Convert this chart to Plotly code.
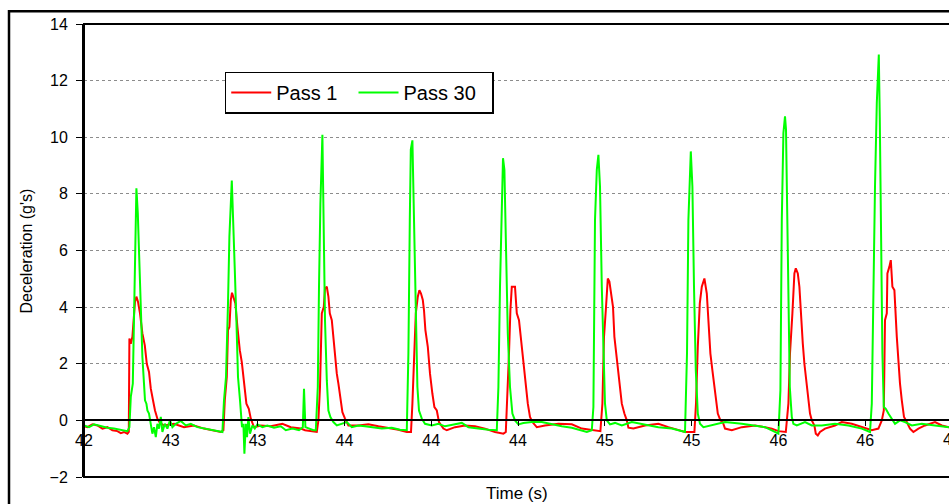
import plotly.graph_objects as go

# ---- data ----
pass1_t = [42.25, 42.267, 42.292, 42.317, 42.342, 42.367, 42.392, 42.417, 42.434, 42.45, 42.467, 42.474,
           42.477, 42.484, 42.492, 42.5, 42.505, 42.512, 42.52, 42.53, 42.542, 42.554, 42.564, 42.575,
           42.584, 42.595, 42.605, 42.617, 42.63, 42.65, 42.7, 42.75, 42.8, 42.85, 42.9, 42.934, 42.947,
           42.954, 42.964, 42.97, 42.977, 42.984, 42.99, 42.997, 43.007, 43.017, 43.029, 43.039, 43.05,
           43.062, 43.074, 43.084, 43.1, 43.134, 43.184, 43.242, 43.284, 43.334, 43.355, 43.384, 43.414,
           43.422, 43.43, 43.439, 43.449, 43.455, 43.464, 43.472, 43.479, 43.489, 43.497, 43.505, 43.514,
           43.522, 43.532, 43.542, 43.555, 43.572, 43.622, 43.672, 43.722, 43.772, 43.822, 43.864, 43.885,
           43.892, 43.902, 43.909, 43.919, 43.927, 43.935, 43.944, 43.95, 43.957, 43.969, 43.98, 43.992,
           44.002, 44.014, 44.025, 44.047, 44.064, 44.105, 44.155, 44.205, 44.255, 44.305, 44.347, 44.359,
           44.369, 44.375, 44.382, 44.389, 44.405, 44.414, 44.425, 44.439, 44.455, 44.469, 44.48, 44.492,
           44.514, 44.555, 44.622, 44.689, 44.739, 44.789, 44.832, 44.842, 44.85, 44.859, 44.869, 44.877,
           44.885, 44.895, 44.902, 44.914, 44.925, 44.939, 44.952, 44.964, 44.972, 44.997, 45.055, 45.122,
           45.172, 45.222, 45.255, 45.302, 45.31, 45.319, 45.329, 45.339, 45.352, 45.364, 45.372, 45.382,
           45.392, 45.405, 45.419, 45.432, 45.444, 45.455, 45.489, 45.539, 45.605, 45.655, 45.689, 45.722,
           45.759, 45.772, 45.78, 45.792, 45.802, 45.809, 45.819, 45.827, 45.835, 45.844, 45.852, 45.86,
           45.872, 45.88, 45.889, 45.902, 45.909, 45.919, 45.93, 45.955, 46.005, 46.039, 46.089, 46.139,
           46.189, 46.222, 46.239, 46.249, 46.255, 46.264, 46.267, 46.277, 46.284, 46.292, 46.302, 46.314,
           46.322, 46.33, 46.339, 46.35, 46.364, 46.38, 46.397, 46.422, 46.455, 46.505, 46.539, 46.575]
pass1_g = [-0.21, -0.24, -0.14, -0.18, -0.29, -0.24, -0.35, -0.38, -0.45, -0.41, -0.47, -0.41,
           2.89, 2.71, 2.95, 3.66, 4.19, 4.37, 4.19, 3.78, 3.07, 2.65, 2.0, 1.71,
           1.12, 0.71, 0.35, 0.06, -0.09, -0.18, -0.12, -0.24, -0.18, -0.29, -0.35, -0.41, -0.35,
           0.71, 1.53, 3.19, 3.3, 4.25, 4.51, 4.31, 4.13, 3.3, 2.48, 2.06, 1.3,
           0.59, 0.41, 0.06, -0.24, -0.18, -0.21, -0.12, -0.24, -0.29, -0.35, -0.38, -0.41,
           0.0, 1.18, 3.78, 4.01, 4.66, 4.72, 4.37, 3.78, 3.54, 2.83, 2.36, 1.65,
           1.3, 0.71, 0.29, 0.06, -0.18, -0.18, -0.14, -0.21, -0.26, -0.33, -0.41, -0.41,
           0.59, 2.95, 3.78, 4.37, 4.6, 4.48, 4.25, 3.89, 3.19, 2.6, 1.65, 0.94,
           0.47, 0.35, -0.06, -0.29, -0.35, -0.24, -0.18, -0.21, -0.29, -0.41, -0.47, -0.41,
           1.18, 2.36, 3.89, 4.72, 4.72, 3.78, 3.54, 2.6, 1.42, 0.59, 0.12, -0.06,
           -0.24, -0.18, -0.12, -0.14, -0.29, -0.35, -0.38, 0.59, 2.95, 3.89, 5.01, 4.9,
           4.48, 4.01, 2.95, 2.24, 1.42, 0.59, 0.24, 0.0, -0.26, -0.29, -0.18, -0.12,
           -0.24, -0.35, -0.41, -0.41, 0.59, 2.6, 4.13, 4.72, 5.01, 4.48, 3.54, 2.36,
           1.77, 0.94, 0.24, 0.0, -0.06, -0.29, -0.35, -0.24, -0.18, -0.24, -0.29, -0.38,
           -0.41, 0.59, 2.36, 3.78, 5.19, 5.37, 5.19, 4.72, 3.54, 2.71, 2.0, 1.42,
           0.71, 0.24, 0.0, -0.18, -0.47, -0.53, -0.41, -0.29, -0.18, -0.06, -0.12, -0.24,
           -0.35, -0.29, 0.0, 0.35, 3.54, 3.78, 5.19, 5.43, 5.66, 4.72, 4.6, 2.95,
           2.0, 1.3, 0.71, 0.12, -0.06, -0.29, -0.41, -0.29, -0.18, -0.06, -0.18, -0.24]

pass30_t = [42.25, 42.275, 42.3, 42.334, 42.367, 42.4, 42.434, 42.467, 42.477, 42.484, 42.494, 42.5,
            42.505, 42.512, 42.519, 42.525, 42.534, 42.542, 42.55, 42.555, 42.562, 42.567, 42.575, 42.584,
            42.592, 42.6, 42.609, 42.617, 42.625, 42.634, 42.642, 42.654, 42.667, 42.68, 42.692, 42.709,
            42.734, 42.759, 42.784, 42.817, 42.85, 42.884, 42.917, 42.942, 42.95, 42.96, 42.97, 42.977,
            42.989, 42.997, 43.004, 43.012, 43.02, 43.03, 43.04, 43.047, 43.052, 43.059, 43.065, 43.072,
            43.08, 43.092, 43.104, 43.117, 43.142, 43.167, 43.2, 43.234, 43.259, 43.292, 43.325, 43.344,
            43.35, 43.357, 43.372, 43.397, 43.409, 43.419, 43.425, 43.432, 43.442, 43.449, 43.455, 43.464,
            43.472, 43.482, 43.497, 43.514, 43.539, 43.564, 43.589, 43.622, 43.655, 43.697, 43.739, 43.789,
            43.83, 43.864, 43.872, 43.879, 43.884, 43.892, 43.899, 43.909, 43.917, 43.925, 43.939, 43.955,
            43.989, 44.022, 44.055, 44.105, 44.139, 44.172, 44.222, 44.272, 44.314, 44.322, 44.33, 44.339,
            44.345, 44.352, 44.359, 44.369, 44.38, 44.392, 44.405, 44.422, 44.447, 44.489, 44.539, 44.589,
            44.639, 44.689, 44.73, 44.764, 44.789, 44.797, 44.805, 44.814, 44.822, 44.83, 44.839, 44.849,
            44.855, 44.864, 44.88, 44.905, 44.939, 44.989, 45.055, 45.122, 45.189, 45.239, 45.255, 45.265,
            45.272, 45.284, 45.292, 45.3, 45.309, 45.319, 45.33, 45.347, 45.389, 45.455, 45.539, 45.605,
            45.655, 45.697, 45.722, 45.732, 45.739, 45.747, 45.755, 45.76, 45.767, 45.772, 45.779, 45.789,
            45.797, 45.814, 45.855, 45.889, 45.939, 46.005, 46.072, 46.139, 46.18, 46.189, 46.197, 46.205,
            46.214, 46.224, 46.229, 46.235, 46.242, 46.249, 46.259, 46.272, 46.289, 46.305, 46.33, 46.355,
            46.389, 46.439, 46.505, 46.575]
pass30_g = [-0.18, -0.24, -0.14, -0.21, -0.26, -0.29, -0.33, -0.38, -0.24, 0.83, 1.3, 4.13,
            6.14, 8.2, 7.32, 5.78, 3.89, 2.24, 1.3, 0.71, 0.59, 0.35, 0.24, -0.18,
            -0.47, -0.24, -0.59, -0.12, -0.29, 0.12, -0.41, -0.12, -0.29, 0.0, -0.24, -0.12,
            -0.02, -0.18, -0.12, -0.24, -0.29, -0.33, -0.38, -0.41, 0.71, 1.53, 4.13, 6.49,
            8.47, 7.08, 5.31, 3.54, 1.53, 0.71, -0.24, -0.12, -1.18, -0.12, -0.59, 0.12,
            -0.47, -0.18, -0.29, -0.14, -0.24, -0.18, -0.26, -0.21, -0.35, -0.29, -0.35, -0.24,
            1.12, -0.24, -0.29, -0.35, -0.35, 1.18, 4.72, 7.67, 10.09, 7.08, 3.54, 1.42,
            0.35, 0.12, -0.06, -0.18, -0.12, -0.06, -0.24, -0.18, -0.21, -0.26, -0.29, -0.26,
            -0.33, -0.35, 2.36, 7.08, 9.56, 9.89, 7.08, 3.54, 1.18, 0.35, 0.06, -0.12,
            -0.18, -0.12, -0.21, -0.14, -0.09, -0.24, -0.29, -0.33, -0.35, 1.18, 4.72, 7.67,
            9.26, 8.85, 5.9, 3.07, 1.18, 0.24, 0.0, -0.14, -0.09, -0.06, -0.06, -0.14,
            -0.21, -0.26, -0.35, -0.41, -0.35, 0.47, 7.08, 8.85, 9.38, 8.26, 4.72, 2.36,
            0.59, 0.0, -0.14, -0.09, -0.18, -0.06, -0.14, -0.24, -0.29, -0.38, -0.41, 2.36,
            7.08, 9.5, 8.26, 4.72, 1.77, 0.24, -0.12, -0.24, -0.18, -0.06, -0.12, -0.18,
            -0.24, -0.38, -0.47, 1.06, 7.08, 10.15, 10.74, 10.27, 7.08, 3.54, 1.18, 0.12,
            -0.12, -0.18, -0.06, -0.18, -0.18, -0.12, -0.18, -0.29, -0.41, 0.59, 4.72, 8.26,
            11.21, 12.92, 10.62, 5.9, 2.36, 0.47, 0.41, 0.24, 0.06, -0.12, 0.0, -0.06,
            -0.18, -0.12, -0.18, -0.24]

series_names = ["Pass 1", "Pass 30"]
x_range = [42.25, 46.575]
x_tick0 = 42.25
x_dtick = 0.434
x_cut_tick_label = "47"   # tick just past the right edge of the window
y_range = [-2, 14]
y_dtick = 2
x_title = "Time (s)"
y_title = "Deceleration (g's)"

FONT = "Liberation Sans, Arial, Helvetica, sans-serif"
PAD = "\u00a0\u00a0"  # legend spacing

fig = go.Figure()
fig.add_trace(go.Scatter(x=pass1_t, y=pass1_g, mode="lines", name=series_names[0] + PAD,
                         line=dict(color="#FF0000", width=2)))
fig.add_trace(go.Scatter(x=pass30_t, y=pass30_g, mode="lines", name=series_names[1] + PAD,
                         line=dict(color="#00FF00", width=2)))

fig.update_layout(
    width=949, height=504,
    margin=dict(l=84, r=0, t=24, b=27),
    paper_bgcolor="white", plot_bgcolor="white",
    font=dict(family=FONT, color="black", size=16),
    showlegend=True,
    legend=dict(orientation="h", x=0.1627, y=0.895, xanchor="left", yanchor="top",
                bordercolor="black", borderwidth=1.5, bgcolor="white",
                font=dict(size=20, family=FONT), itemwidth=40),
    xaxis=dict(range=x_range, tick0=x_tick0, dtick=x_dtick, tickformat=".0f",
               anchor="free", position=0.125, showline=True, linecolor="black", linewidth=2,
               ticks="outside", ticklen=5, tickcolor="black", showgrid=False, zeroline=False,
               tickfont=dict(size=16, family=FONT)),
    yaxis=dict(range=y_range, dtick=y_dtick, showline=True, linecolor="black", linewidth=2,
               ticks="outside", ticklen=6, tickcolor="black", ticklabelstandoff=5,
               showgrid=True, gridcolor="#8c8c8c", griddash="dot", gridwidth=1,
               zeroline=False, tickfont=dict(size=16, family=FONT)),
)

# plot-area frame
fig.add_shape(type="rect", xref="paper", yref="paper", x0=0, x1=1.01, y0=0, y1=1,
              line=dict(color="black", width=2), layer="above")
# outer chart frame (cropped at right and bottom)
fig.add_shape(type="rect", xref="paper", yref="paper", x0=-0.0867, x1=1.1, y0=-0.2, y1=1.0283,
              line=dict(color="black", width=2.5))

fig.add_annotation(text=x_title, xref="paper", yref="paper", x=0.5, y=-0.0375,
                   xanchor="center", yanchor="middle", showarrow=False, font=dict(size=17, family=FONT))
fig.add_annotation(text=y_title, xref="paper", yref="paper", x=-0.0659, y=0.5, textangle=-90,
                   xanchor="center", yanchor="middle", showarrow=False, font=dict(size=16, family=FONT))
fig.add_annotation(text=x_cut_tick_label, xref="paper", yref="paper", x=1.0035, y=0.0817,
                   xanchor="center", yanchor="middle", showarrow=False, font=dict(size=16, family=FONT))

fig.write_html(
    "out.html",
    config={"displayModeBar": False},
    post_script=("document.documentElement.style.overflow='hidden';"
                 "document.body.style.margin='0';document.body.style.overflow='hidden';"),
)
